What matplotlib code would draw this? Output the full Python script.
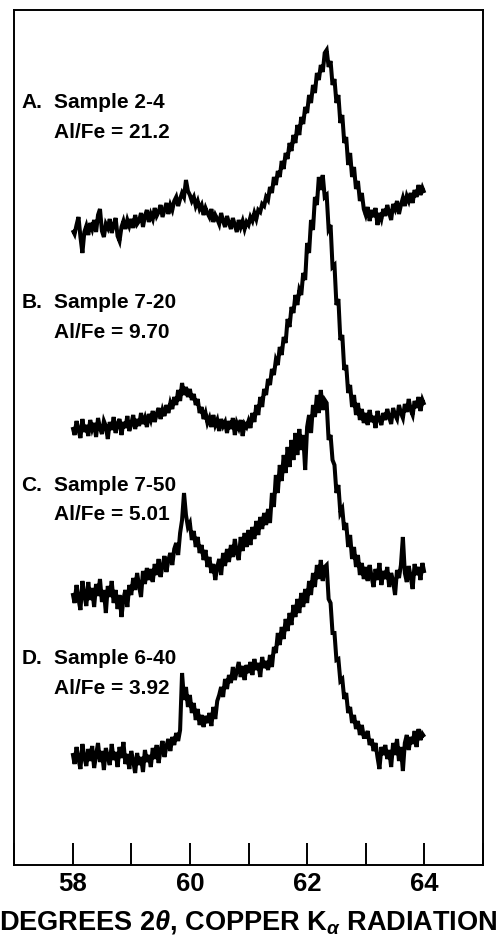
"""
Difratogramas (Cu K-alfa) de quatro amostras com razões Al/Fe distintas,
empilhados num único painel com moldura, no estilo da figura original.
"""

import numpy as np
import matplotlib
matplotlib.use("Agg")
import matplotlib.pyplot as plt
from matplotlib.ticker import MultipleLocator

# ─────────────────────────────────────────────────────────────────────────────
#  ESTILO
# ─────────────────────────────────────────────────────────────────────────────
plt.rcParams.update({
    "font.family":        ["Liberation Sans", "DejaVu Sans"],
    "font.weight":        "bold",
    "axes.labelweight":   "bold",
    "mathtext.fontset":   "custom",
    "mathtext.rm":        "Liberation Sans:bold",
    "mathtext.it":        "Liberation Sans:italic:bold",
    "axes.linewidth":     1.4,
})

# ─────────────────────────────────────────────────────────────────────────────
#  DADOS (intensidade em unidades arbitrárias, já deslocadas)
#  passo de 2θ ≈ 0.033°, de 58° a 64°
# ─────────────────────────────────────────────────────────────────────────────
TWO_THETA_MIN = 58.0
TWO_THETA_MAX = 64.0

amostra_a = [
    635, 631, 640, 648, 628, 612, 633, 639, 630, 642,
    636, 645, 633, 650, 656, 634, 628, 641, 637, 646,
    632, 640, 647, 629, 624, 638, 644, 636, 645, 639,
    646, 637, 650, 641, 644, 652, 638, 649, 655, 643,
    651, 646, 657, 649, 653, 660, 648, 655, 662, 651,
    660, 655, 664, 668, 659, 666, 672, 668, 685, 674,
    670, 664, 668, 659, 664, 656, 660, 650, 657, 652,
    648, 656, 643, 650, 646, 641, 652, 644, 638, 649,
    642, 636, 647, 640, 633, 645, 638, 644, 636, 643,
    640, 648, 644, 652, 646, 655, 653, 661, 659, 668,
    665, 678, 672, 688, 680, 694, 688, 704, 696, 712,
    706, 722, 714, 730, 722, 740, 730, 748, 741, 758,
    752, 770, 762, 780, 772, 792, 785, 800, 793, 812,
    815, 798, 804, 780, 786, 762, 770, 742, 750, 722,
    728, 700, 712, 688, 698, 676, 684, 664, 672, 656,
    650, 658, 644, 655, 648, 657, 640, 652, 646, 656,
    649, 660, 652, 645, 661, 656, 664, 651, 660, 667,
    659, 669, 664, 672, 662, 675, 668, 680, 670, 677,
    672]

amostra_b = [
    438, 430, 444, 435, 427, 446, 433, 440, 429, 445,
    436, 442, 428, 447, 437, 431, 444, 439, 426, 443,
    435, 448, 432, 441, 446, 430, 443, 437, 449, 434,
    441, 450, 436, 446, 439, 452, 441, 447, 438, 451,
    445, 454, 443, 451, 457, 446, 455, 449, 460, 452,
    462, 456, 468, 460, 475, 464, 482, 470, 478, 468,
    476, 465, 471, 460, 466, 452, 458, 446, 452, 442,
    447, 438, 450, 440, 445, 434, 446, 439, 443, 432,
    444, 436, 447, 430, 442, 437, 445, 429, 441, 438,
    444, 437, 452, 443, 460, 450, 468, 458, 476, 470,
    486, 480, 496, 490, 505, 500, 518, 510, 528, 522,
    546, 538, 558, 552, 570, 560, 575, 570, 592, 585,
    622, 612, 645, 635, 668, 660, 688, 675, 690, 668,
    670, 636, 640, 598, 600, 560, 566, 525, 530, 495,
    500, 472, 480, 458, 470, 450, 462, 445, 456, 442,
    452, 440, 455, 443, 449, 437, 454, 446, 440, 452,
    445, 456, 448, 441, 457, 450, 446, 460, 452, 447,
    461, 453, 466, 455, 450, 464, 457, 468, 454, 465,
    460]

amostra_c = [
    272, 262, 280, 266, 255, 284, 270, 259, 283, 265,
    277, 258, 281, 269, 286, 263, 275, 252, 279, 268,
    284, 262, 275, 256, 270, 248, 266, 275, 258, 280,
    270, 287, 275, 292, 279, 268, 294, 281, 297, 285,
    296, 283, 301, 290, 306, 288, 299, 309, 293, 305,
    312, 300, 316, 322, 310, 332, 345, 372, 350, 338,
    342, 325, 334, 318, 328, 312, 320, 305, 315, 298,
    308, 292, 301, 285, 298, 306, 290, 312, 299, 316,
    303, 320, 308, 326, 312, 305, 328, 314, 332, 318,
    335, 320, 338, 326, 344, 330, 348, 336, 352, 340,
    356, 342, 372, 358, 390, 372, 400, 384, 410, 392,
    418, 398, 425, 405, 432, 410, 436, 415, 430, 395,
    438, 450, 432, 460, 448, 470, 452, 475, 455, 465,
    462, 425, 430, 405, 400, 372, 380, 352, 356, 335,
    342, 318, 330, 306, 318, 298, 310, 290, 302, 286,
    298, 284, 300, 288, 278, 296, 285, 302, 280, 294,
    286, 298, 278, 292, 284, 270, 295, 287, 300, 328,
    292, 283, 299, 288, 276, 301, 290, 298, 285, 302,
    292]

amostra_d = [
    112, 101, 118, 106, 96, 121, 108, 99, 116, 104,
    119, 97, 110, 122, 103, 114, 95, 117, 108, 100,
    121, 105, 113, 98, 118, 107, 123, 101, 111, 96,
    114, 104, 92, 112, 100, 108, 93, 115, 103, 110,
    98, 117, 106, 120, 102, 115, 124, 108, 119, 126,
    114, 128, 120, 132, 124, 135, 192, 165, 178, 158,
    170, 152, 162, 145, 156, 140, 150, 138, 149, 142,
    152, 139, 158, 146, 164, 170, 178, 168, 186, 176,
    190, 182, 198, 185, 194, 203, 188, 199, 185, 200,
    192, 203, 190, 206, 195, 202, 188, 208, 197, 204,
    195, 210, 198, 218, 212, 232, 220, 238, 226, 246,
    234, 252, 240, 260, 248, 266, 252, 272, 258, 276,
    262, 284, 270, 292, 278, 300, 286, 305, 284, 298,
    300, 266, 262, 232, 232, 205, 206, 184, 186, 166,
    172, 152, 158, 142, 150, 136, 144, 130, 140, 128,
    128, 134, 120, 126, 114, 122, 108, 96, 118, 110,
    120, 106, 115, 98, 122, 110, 126, 104, 118, 94,
    122, 130, 115, 128, 121, 134, 118, 136, 125, 131,
    128]

rotulos_letra = ["A.", "B.", "C.", "D."]
rotulos_amostra = ["Sample 2-4", "Sample 7-20", "Sample 7-50", "Sample 6-40"]
rotulos_razao = ["Al/Fe = 21.2", "Al/Fe = 9.70", "Al/Fe = 5.01", "Al/Fe = 3.92"]

ticks_principais = [58, 60, 62, 64]

# ─────────────────────────────────────────────────────────────────────────────
#  FIGURA
# ─────────────────────────────────────────────────────────────────────────────
fig = plt.figure(figsize=(5.02, 9.5), dpi=100)
ax = fig.add_axes([14 / 502, 1 - 865 / 950, 469 / 502, 855 / 950])

series = [amostra_a, amostra_b, amostra_c, amostra_d]
for y in series:
    x = np.linspace(TWO_THETA_MIN, TWO_THETA_MAX, len(y))
    ax.plot(x, y, color="black", lw=2.9, solid_joinstyle="miter",
            solid_capstyle="butt")

# rótulos de cada curva (posição da 1ª linha em unidades de dados)
y_rotulos = [762, 562, 380, 207]
for letra, amostra, razao, yl in zip(rotulos_letra, rotulos_amostra, rotulos_razao, y_rotulos):
    ax.text(57.13, yl, letra, fontsize=15, ha="left", va="center")
    ax.text(57.69, yl, amostra, fontsize=15, ha="left", va="center")
    ax.text(57.69, yl - 30, razao, fontsize=15, ha="left", va="center")

ax.set_xlim(57, 65)
ax.set_ylim(0, 855)
ax.set_yticks([])

ax.xaxis.set_major_locator(plt.FixedLocator(ticks_principais))
ax.xaxis.set_minor_locator(MultipleLocator(1))
ax.tick_params(axis="x", which="both", direction="in", length=16, width=1.4)
ax.tick_params(axis="x", which="major", labelsize=18.5, pad=5)

ax.set_xlabel(r"DEGREES 2$\theta$, COPPER K$_{\alpha}$ RADIATION",
              fontsize=19.5, labelpad=9)

fig.savefig("out.png", dpi=100)
